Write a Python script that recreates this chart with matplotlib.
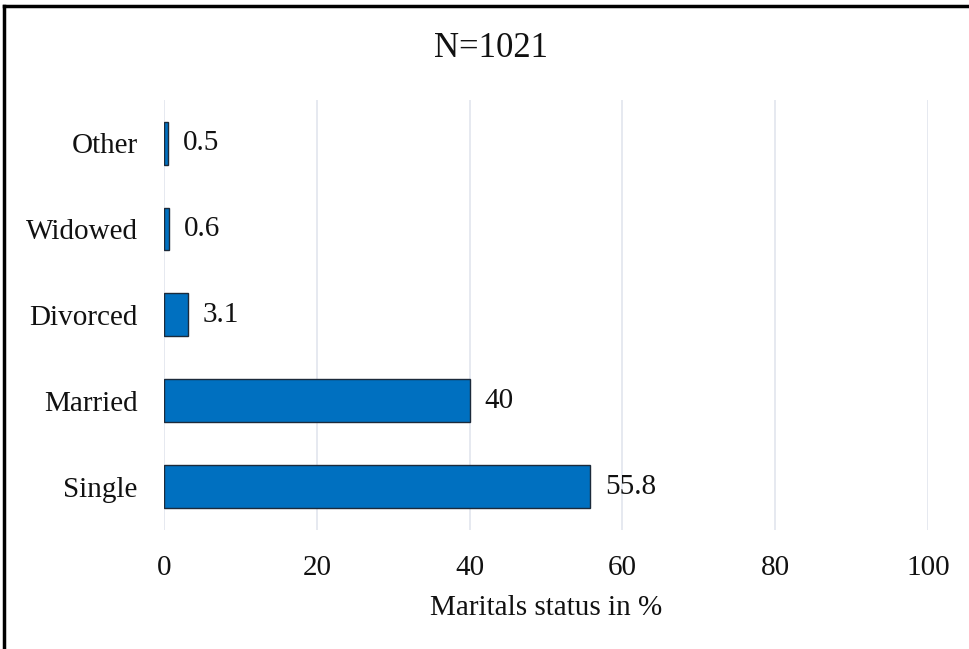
import matplotlib.pyplot as plt
from matplotlib.lines import Line2D

plt.rcParams["font.family"] = ["Liberation Serif", "DejaVu Serif"]

categories = ["Single", "Married", "Divorced", "Widowed", "Other"]
percent = [55.8, 40, 3.1, 0.6, 0.5]
xticks = [0, 20, 40, 60, 80, 100]

fig = plt.figure(figsize=(9.69, 6.49), dpi=100)
ax = fig.add_axes([0.1692, 0.1834, 0.7885, 0.6625])

bars = ax.barh(categories, percent, height=0.5, color="#0070C0",
               edgecolor="#1c2a3a", linewidth=1.0, zorder=3)
ax.bar_label(bars, labels=[f"{v:g}" for v in percent], padding=11,
             fontsize=21, color="#111111")

ax.set_xlim(0, 100)
ax.set_ylim(-0.5, len(categories) - 0.5)
ax.set_xticks(xticks)
ax.grid(axis="x", color="#e1e5ee", linewidth=1.2, zorder=0)
ax.grid(axis="y", visible=False)
for s in ax.spines.values():
    s.set_visible(False)
ax.tick_params(length=0, labelsize=21, labelcolor="#111111")
ax.tick_params(axis="x", pad=18)
ax.tick_params(axis="y", pad=19)
ax.set_xlabel("Maritals status in %", fontsize=21, labelpad=10, color="#111111")
fig.text(0.507, 0.926, "N=1021", ha="center", va="center", fontsize=25, color="#111111")

# frame lines along the left and top edges
fig.add_artist(Line2D([0.0046, 0.0046], [0, 0.991], transform=fig.transFigure,
                      color="black", linewidth=2.5))
fig.add_artist(Line2D([0.0046, 1], [0.991, 0.991], transform=fig.transFigure,
                      color="black", linewidth=2.5))

fig.savefig("out.png", dpi=100)
